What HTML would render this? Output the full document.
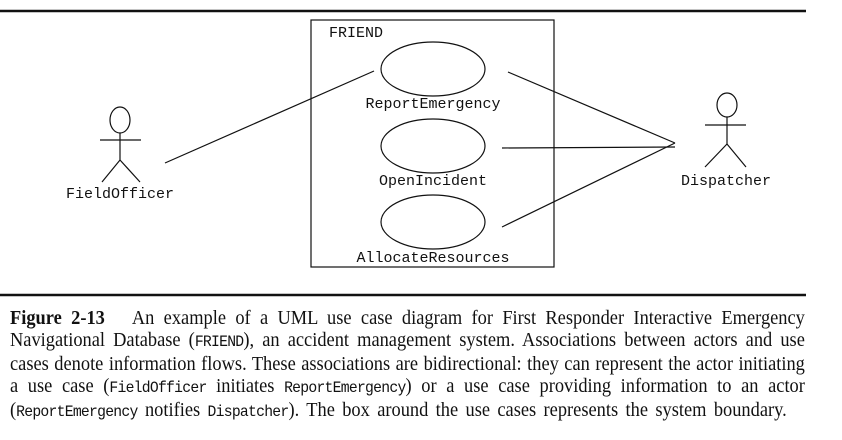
<!DOCTYPE html>
<html><head><meta charset="utf-8"><style>
body{margin:0;width:842px;height:440px;background:#fff;overflow:hidden;position:relative}
.cap{position:absolute;left:10px;top:307px;width:864px;font-family:"Liberation Serif",serif;font-size:20px;line-height:22px;color:#111;transform:scaleX(0.92);transform-origin:0 0}
.cap div{text-align:justify;text-align-last:justify;white-space:nowrap}
.cap div.l{text-align-last:left;word-spacing:3px}
.cap code{font-family:"Liberation Mono",monospace;font-size:16px;letter-spacing:-0.8px;word-spacing:0}
</style></head><body>
<svg width="842" height="300" style="position:absolute;left:0;top:0" font-family="Liberation Mono, monospace" font-size="15" fill="none" stroke="#111" stroke-width="1.2">
<line x1="0" y1="11" x2="806" y2="11" stroke-width="2.5"/>
<line x1="0" y1="295" x2="806" y2="295" stroke-width="2.5"/>
<rect x="311" y="20" width="243" height="247"/>
<ellipse cx="433" cy="69" rx="52" ry="27"/>
<ellipse cx="433" cy="146" rx="52" ry="27"/>
<ellipse cx="433" cy="222" rx="52" ry="27"/>
<line x1="165" y1="163" x2="374" y2="71"/>
<line x1="508" y1="72" x2="675" y2="143"/>
<line x1="502" y1="148" x2="675" y2="147"/>
<line x1="502" y1="227" x2="675" y2="143"/>
<ellipse cx="120" cy="120" rx="10" ry="13"/>
<line x1="100" y1="140" x2="141" y2="140"/>
<line x1="120" y1="133" x2="120" y2="160"/>
<polyline points="102,182 120,160 140,182"/>
<ellipse cx="727" cy="105" rx="10" ry="12"/>
<line x1="705" y1="125" x2="746" y2="125"/>
<line x1="727" y1="117" x2="727" y2="144"/>
<polyline points="705,167 727,144 746,167"/>
<g fill="#111" stroke="none">
<text x="329" y="37">FRIEND</text>
<text x="433" y="108" text-anchor="middle">ReportEmergency</text>
<text x="433" y="185" text-anchor="middle">OpenIncident</text>
<text x="433" y="262" text-anchor="middle">AllocateResources</text>
<text x="120" y="198" text-anchor="middle">FieldOfficer</text>
<text x="726" y="185" text-anchor="middle">Dispatcher</text>
</g>
</svg>
<div class="cap">
<div><b>Figure 2-13</b>&nbsp;&nbsp; An example of a UML use case diagram for First Responder Interactive Emergency</div>
<div>Navigational Database (<code>FRIEND</code>), an accident management system. Associations between actors and use</div>
<div>cases denote information flows. These associations are bidirectional: they can represent the actor initiating</div>
<div>a use case (<code>FieldOfficer</code> initiates <code>ReportEmergency</code>) or a use case providing information to an actor</div>
<div class="l">(<code>ReportEmergency</code> notifies <code>Dispatcher</code>). The box around the use cases represents the system boundary.</div>
</div>
</body></html>
